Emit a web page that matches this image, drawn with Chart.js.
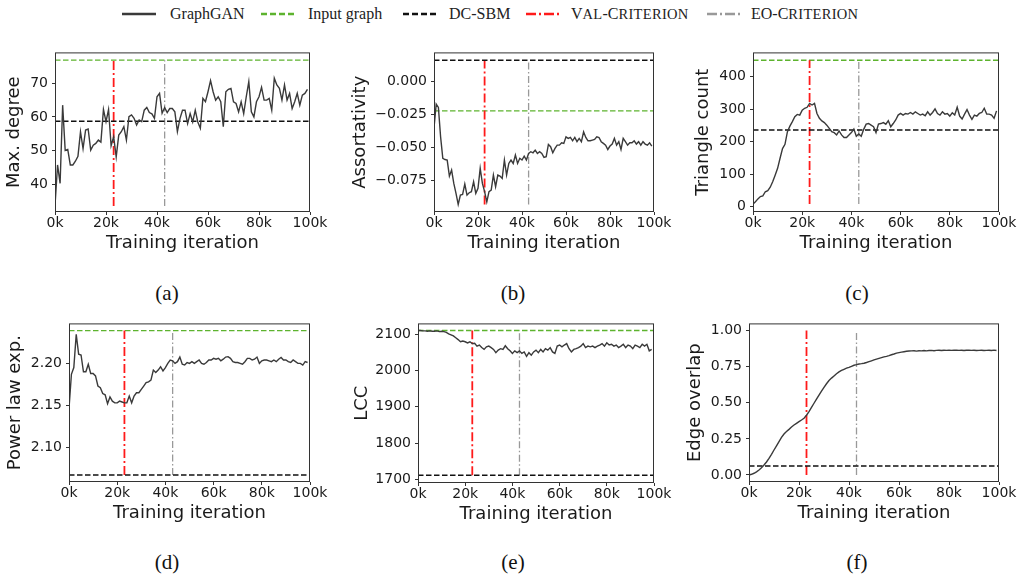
<!DOCTYPE html>
<html>
<head>
<meta charset="utf-8">
<script src="https://cdn.jsdelivr.net/npm/chart.js@4.4.0/dist/chart.umd.min.js"></script>
<style>
  html, body { margin: 0; padding: 0; background: #fff; width: 1021px; height: 578px; overflow: hidden; position: relative; }
  canvas { position: absolute; }
  .tag { position: absolute; font-family: 'Liberation Serif', serif; font-size: 21px; color: #111; transform: translate(-50%, -50%); }
  .leg { position: absolute; font-family: 'Liberation Serif', serif; font-size: 16px; color: #222; line-height: 20px; white-space: nowrap; }
  .leg svg { position: absolute; }
  .sm { font-size: 14.5px; letter-spacing: 0.3px; }
</style>
</head>
<body>
<div id="legend"></div>
<div id="tags"></div>
<canvas id="c0"></canvas>
<canvas id="c1"></canvas>
<canvas id="c2"></canvas>
<canvas id="c3"></canvas>
<canvas id="c4"></canvas>
<canvas id="c5"></canvas>
<script>
// iterations in thousands
const iterK = [0,1,2,3,4,5,6,7,8,9,10,11,12,13,14,15,16,17,18,19,20,21,22,23,24,25,26,27,28,29,
  30,31,32,33,34,35,36,37,38,39,40,41,42,43,44,45,46,47,48,49,50,51,52,53,54,55,56,57,58,59,
  60,61,62,63,64,65,66,67,68,69,70,71,72,73,74,75,76,77,78,79,80,81,82,83,84,85,86,87,88,89,
  90,91,92,93,94,95,96,97,98,99];
const valIter = 23;
const eoIter = 43;

const maxDegree = [33.5,45.7,40.2,63.5,50.0,50.3,45.7,45.7,46.8,48.3,
  55.6,50.6,56.1,56.4,50.1,51.6,52.1,53.1,52.5,62.2,
  58.6,62.2,51.4,54.1,48.1,54.6,55.6,57.1,53.1,60.1,
  60.6,59.6,57.6,59.1,58.6,62.0,62.8,61.3,60.9,59.6,
  66.0,67.0,61.1,62.8,61.3,62.5,62.5,61.5,55.6,59.5,
  62.0,62.0,58.0,61.0,58.5,62.0,58.5,56.6,65.5,64.5,
  67.5,70.8,67.5,65.0,66.0,64.5,57.1,67.5,68.2,68.5,
  64.5,64.0,61.5,64.5,61.0,66.0,70.5,61.5,60.0,64.5,
  66.0,68.8,65.0,65.0,65.5,62.0,71.5,69.5,68.5,65.0,
  69.5,65.0,67.0,62.5,64.5,67.0,63.5,66.5,67.0,68.2];

const assortativity = [-0.0350,-0.0169,-0.0194,-0.0417,-0.0580,-0.0589,-0.0593,-0.0715,-0.0669,-0.0770,
  -0.0846,-0.0930,-0.0859,-0.0854,-0.0775,-0.0859,-0.0841,-0.0833,-0.0758,-0.0846,
  -0.0808,-0.0656,-0.0770,-0.0833,-0.0910,-0.0833,-0.0821,-0.0707,-0.0795,-0.0707,
  -0.0715,-0.0732,-0.0593,-0.0707,-0.0619,-0.0593,-0.0619,-0.0555,-0.0619,-0.0580,
  -0.0593,-0.0563,-0.0593,-0.0543,-0.0530,-0.0538,-0.0518,-0.0543,-0.0530,-0.0543,
  -0.0573,-0.0568,-0.0475,-0.0492,-0.0538,-0.0505,-0.0480,-0.0480,-0.0462,-0.0467,
  -0.0417,-0.0429,-0.0422,-0.0447,-0.0422,-0.0454,-0.0429,-0.0454,-0.0379,-0.0422,
  -0.0447,-0.0447,-0.0442,-0.0437,-0.0417,-0.0422,-0.0454,-0.0467,-0.0480,-0.0513,
  -0.0487,-0.0472,-0.0429,-0.0480,-0.0454,-0.0513,-0.0429,-0.0454,-0.0480,-0.0462,
  -0.0462,-0.0447,-0.0472,-0.0454,-0.0480,-0.0454,-0.0472,-0.0480,-0.0462,-0.0487];

const triangleCount = [8,15,24,31,33,46,49,60,77,97,
  118,149,179,192,231,248,262,277,284,282,
  297,303,306,318,313,318,287,272,264,259,
  251,241,231,228,221,233,221,213,213,221,
  228,239,217,224,217,238,254,256,251,246,
  228,254,256,259,254,265,246,256,267,282,
  287,282,287,285,290,285,292,287,282,285,
  280,292,282,290,301,287,282,292,285,287,
  279,289,282,306,279,270,285,299,282,269,
  282,279,287,290,303,285,285,282,272,295];

const powerLawExp = [2.146,2.187,2.195,2.2345,2.211,2.210,2.190,2.190,2.199,2.188,
  2.188,2.185,2.173,2.171,2.164,2.1625,2.152,2.160,2.155,2.153,
  2.153,2.155,2.154,2.153,2.153,2.161,2.153,2.161,2.165,2.165,
  2.169,2.173,2.177,2.178,2.180,2.192,2.189,2.192,2.196,2.191,
  2.195,2.200,2.204,2.203,2.200,2.202,2.2075,2.199,2.198,2.201,
  2.200,2.202,2.200,2.202,2.204,2.200,2.199,2.201,2.204,2.204,
  2.206,2.205,2.206,2.203,2.205,2.2075,2.208,2.206,2.202,2.201,
  2.201,2.200,2.199,2.202,2.206,2.206,2.204,2.205,2.2075,2.200,
  2.203,2.204,2.204,2.203,2.202,2.204,2.202,2.205,2.207,2.204,
  2.204,2.202,2.201,2.204,2.202,2.200,2.200,2.198,2.202,2.201];

const lcc = [2110,2110,2109,2109,2108,2109,2108,2108,2109,2107,
  2108,2107,2105,2101,2098,2095,2090,2085,2079,2081,
  2079,2076,2079,2074,2075,2067,2070,2063,2058,2065,
  2067,2063,2058,2049,2056,2060,2058,2068,2060,2054,
  2047,2054,2049,2054,2047,2051,2039,2049,2042,2051,
  2056,2049,2058,2051,2060,2056,2063,2051,2047,2067,
  2070,2065,2070,2074,2060,2051,2058,2060,2063,2067,
  2074,2063,2067,2065,2067,2063,2067,2070,2074,2067,
  2076,2070,2072,2067,2070,2063,2067,2072,2063,2070,
  2067,2060,2070,2067,2063,2072,2067,2072,2054,2058];

const edgeOverlap = [0.000,0.005,0.012,0.022,0.035,0.050,0.069,0.090,0.115,0.143,
  0.173,0.202,0.231,0.260,0.284,0.301,0.316,0.332,0.346,0.358,
  0.370,0.381,0.393,0.414,0.439,0.468,0.497,0.526,0.554,0.581,
  0.607,0.632,0.654,0.671,0.686,0.701,0.714,0.724,0.732,0.740,
  0.746,0.753,0.760,0.764,0.769,0.771,0.774,0.779,0.785,0.791,
  0.797,0.803,0.808,0.813,0.818,0.822,0.827,0.833,0.838,0.844,
  0.848,0.851,0.854,0.857,0.859,0.860,0.861,0.858,0.861,0.860,
  0.862,0.860,0.862,0.863,0.861,0.863,0.864,0.862,0.864,0.863,
  0.865,0.863,0.864,0.865,0.863,0.864,0.862,0.864,0.865,0.863,
  0.864,0.862,0.863,0.864,0.862,0.863,0.864,0.862,0.865,0.862];

const series = [maxDegree, assortativity, triangleCount, powerLawExp, lcc, edgeOverlap];
const inputGraph = [76.9, -0.022, 451, 2.239, 2110, 1.0];
const inputShown = [true, true, true, true, true, false];
const dcsbm = [58.7, 0.0164, 236, 2.067, 1712, 0.062];
const yLabels = ['Max. degree', 'Assortativity', 'Triangle count', 'Power law exp.', 'LCC', 'Edge overlap'];
const yMin = [31.7, -0.0987, -16.4, 2.0587, 1690.6, -0.0485];
const yMax = [79.2, 0.0223, 475, 2.2476, 2129.5, 1.05];
const yTicks = [
  [40, 50, 60, 70],
  [-0.075, -0.05, -0.025, 0],
  [0, 100, 200, 300, 400],
  [2.10, 2.15, 2.20],
  [1700, 1800, 1900, 2000, 2100],
  [0, 0.25, 0.5, 0.75, 1.0]
];
const yDecimals = [0, 3, 0, 2, 0, 2];
const xTicksK = [0, 20, 40, 60, 80, 100];
const panelTags = ['(a)', '(b)', '(c)', '(d)', '(e)', '(f)'];

// legend names; small-caps pieces as [text, small]
const legendNames = [
  [['GraphGAN', false]],
  [['Input graph', false]],
  [['DC-SBM', false]],
  [['V', false], ['AL', true], ['-C', false], ['RITERION', true]],
  [['EO-C', false], ['RITERION', true]]
];

// styles
const colGan = '#3a3a3a';
const colInput = '#5db32e';
const colDc = '#111111';
const colVal = '#ff1a1a';
const colEo = '#999999';
const dashRef = [5.5, 2.5];
const dashVal = [9, 3, 2, 3];
const dashEo = [7, 2.5, 1.5, 2.5];
const legendStyles = [
  { c: colGan, w: 2.5, d: '' },
  { c: colInput, w: 2.5, d: '6 3' },
  { c: colDc, w: 2.5, d: '6 3' },
  { c: colVal, w: 2.5, d: '10 3 2 3' },
  { c: colEo, w: 2.5, d: '10 3 2 3' }
];

// layout: [canvasLeft, canvasTop, yAxisWidth, plotWidth, plotHeight]
const layoutBoxes = [
  [4, 40, 51, 255, 160],
  [350, 40, 84, 220, 160],
  [693, 40, 60, 246, 160],
  [5, 311, 64, 241, 159],
  [352, 311, 66, 236, 160],
  [685, 311, 64, 250, 159]
];
const tagPos = [[167, 293], [513, 293], [857, 293], [167, 562], [513, 562], [857, 562]];
const legendLineX = [122, 261, 403, 526, 707];
const legendTextX = [170, 308, 449, 571, 751];
const padTop = 12, padRight = 24, xAxisH = 42;

// legend
const legendEl = document.getElementById('legend');
legendNames.forEach((parts, i) => {
  const s = legendStyles[i];
  legendEl.insertAdjacentHTML('beforeend',
    `<svg class="leg" style="left:${legendLineX[i]}px;top:11px" width="34" height="6"><line x1="0" y1="3" x2="34" y2="3" stroke="${s.c}" stroke-width="${s.w}" ${s.d ? `stroke-dasharray="${s.d}"` : ''}/></svg>`);
  const html = parts.map(([t, small]) => small ? `<span class="sm">${t}</span>` : t).join('');
  legendEl.insertAdjacentHTML('beforeend', `<div class="leg" style="left:${legendTextX[i]}px;top:4px">${html}</div>`);
});

// subfigure tags
const tagsEl = document.getElementById('tags');
panelTags.forEach((t, i) => {
  tagsEl.insertAdjacentHTML('beforeend', `<div class="tag" style="left:${tagPos[i][0]}px;top:${tagPos[i][1]}px">${t}</div>`);
});

const framePlugin = {
  id: 'frame',
  afterDraw(chart) {
    const { ctx, chartArea: a } = chart;
    ctx.save();
    ctx.strokeStyle = '#333';
    ctx.lineWidth = 1;
    ctx.strokeRect(a.left + 0.5, a.top + 0.5, a.right - a.left - 1, a.bottom - a.top - 1);
    ctx.restore();
  }
};

function fmtY(v, dec) {
  if (dec === 0) return String(Math.round(v));
  const s = Math.abs(v).toFixed(dec);
  return (v < -1e-9 ? '\u2212' : '') + s;
}

series.forEach((data, p) => {
  const [left, top, yW, pw, ph] = layoutBoxes[p];
  const cv = document.getElementById('c' + p);
  cv.width = yW + pw + padRight;
  cv.height = padTop + ph + xAxisH;
  cv.style.left = left + 'px';
  cv.style.top = top + 'px';

  const refs = [dcsbm[p], inputGraph[p]];
  const lo = Math.min(...data, ...refs);
  const hi = Math.max(...data, ...refs);

  const datasets = [
    { data: iterK.map((x, i) => ({ x, y: data[i] })), borderColor: colGan, borderWidth: 1.4 },
    { data: [{ x: 0, y: dcsbm[p] }, { x: 100, y: dcsbm[p] }], borderColor: colDc, borderWidth: 1.4, borderDash: dashRef },
    { data: [{ x: valIter, y: lo }, { x: valIter, y: hi }], borderColor: colVal, borderWidth: 1.8, borderDash: dashVal },
    { data: [{ x: eoIter, y: lo }, { x: eoIter, y: hi }], borderColor: colEo, borderWidth: 1.3, borderDash: dashEo }
  ];
  if (inputShown[p]) {
    datasets.push({ data: [{ x: 0, y: inputGraph[p] }, { x: 100, y: inputGraph[p] }], borderColor: colInput, borderWidth: 1.4, borderDash: dashRef });
  }

  new Chart(cv, {
    type: 'line',
    data: { datasets },
    options: {
      responsive: false,
      animation: false,
      events: [],
      layout: { padding: { top: padTop, right: padRight, left: 0, bottom: 0 } },
      elements: { point: { radius: 0 }, line: { tension: 0, fill: false } },
      plugins: { legend: { display: false }, tooltip: { enabled: false } },
      scales: {
        x: {
          type: 'linear',
          min: 0, max: 100,
          afterFit: s => { s.height = xAxisH; },
          afterBuildTicks: s => { s.ticks = xTicksK.map(v => ({ value: v })); },
          border: { display: false },
          grid: { display: true, drawOnChartArea: false, drawTicks: true, tickLength: 3, tickColor: '#333' },
          ticks: { padding: 0, maxRotation: 0, color: '#1a1a1a', font: { family: 'DejaVu Sans', size: 14 }, callback: v => v + 'k' },
          title: { display: true, text: 'Training iteration', color: '#1a1a1a', padding: 0, font: { family: 'DejaVu Sans', size: 18 } }
        },
        y: {
          min: yMin[p], max: yMax[p],
          afterFit: s => { s.width = yW; },
          afterBuildTicks: s => { s.ticks = yTicks[p].map(v => ({ value: v })); },
          border: { display: false },
          grid: { display: true, drawOnChartArea: false, drawTicks: true, tickLength: 3, tickColor: '#333' },
          ticks: { padding: 4, color: '#1a1a1a', font: { family: 'DejaVu Sans', size: 14 }, callback: v => fmtY(v, yDecimals[p]) },
          title: { display: true, text: yLabels[p], color: '#1a1a1a', padding: 0, font: { family: 'DejaVu Sans', size: 18 } }
        }
      }
    },
    plugins: [framePlugin]
  });
});
</script>
</body>
</html>
